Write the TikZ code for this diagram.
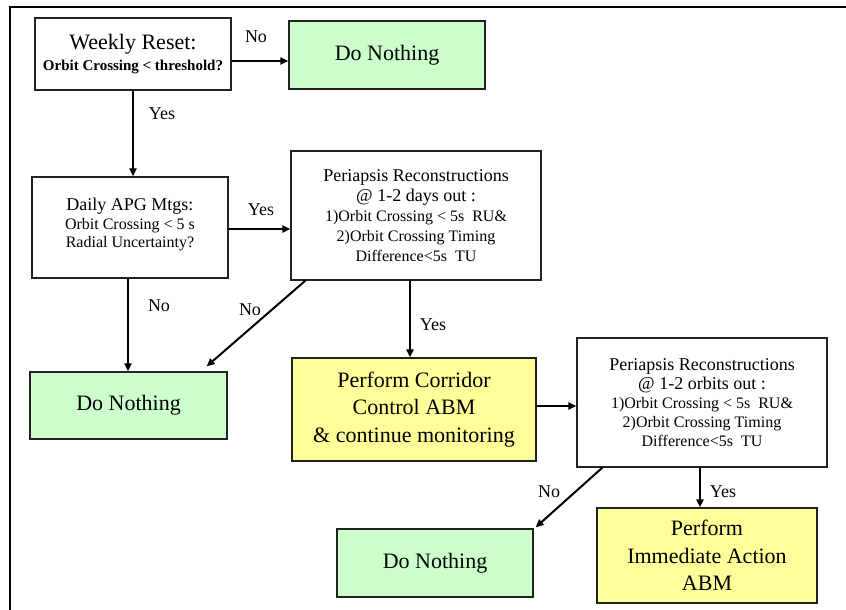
\documentclass[tikz,border=0pt]{standalone}
\usepackage{fontspec}
\setmainfont{Liberation Serif}
\newfontfamily\tnr{Liberation Serif}
\usetikzlibrary{arrows.meta}
\newcommand{\fsz}[2]{\tnr\fontsize{#1}{#2}\selectfont}
\definecolor{boxgreen}{HTML}{CCFFCC}
\definecolor{boxyellow}{HTML}{FFFF99}
\definecolor{edgegray}{HTML}{222222}
\tikzset{
  basebox/.style={draw=edgegray, line width=1.3pt, align=center, inner sep=0pt, anchor=center},
  whitebox/.style={basebox, fill=white, font=\fsz{16}{19}},
  greenbox/.style={basebox, fill=boxgreen, font=\fsz{22}{27}},
  yellowbox/.style={basebox, fill=boxyellow, font=\fsz{22}{27.5}},
  arr/.style={line width=2pt, -{Triangle[length=8pt,width=7pt]}},
  lbl/.style={font=\fsz{18}{20}, inner sep=0pt, anchor=center}
}
\begin{document}
\begin{tikzpicture}[x=1pt,y=-1pt]
\useasboundingbox (0,0) rectangle (846,610);
\fill[white] (0,0) rectangle (846,610);
% outer frame (clipped by page)
\draw[line width=2pt] (10,612) -- (10,7) -- (848,7);

% boxes
\node[whitebox, minimum width=196pt, minimum height=72pt] (b1) at (133,54)
  {\fsz{22}{24}Weekly Reset:\\[2pt] \bfseries\fsz{15}{20}Orbit Crossing < threshold?};
\node[greenbox, minimum width=196pt, minimum height=68pt] (dn1) at (387,55) {Do Nothing};
\node[whitebox, minimum width=196pt, minimum height=101pt] (b2) at (130,227.5)
  {\fsz{18}{20}Daily APG Mtgs:\\ \fsz{16}{19}Orbit Crossing < 5 s\\[-1pt] \fsz{16}{19}Radial Uncertainty?\\[-9pt]};
\node[whitebox, minimum width=250pt, minimum height=129pt] (b3) at (416,215.5)
  {\fsz{18}{22}Periapsis Reconstructions\\[1pt] \fsz{18}{22}@ 1-2 days out :\\[1pt] \fsz{16}{19}1)Orbit Crossing < 5s~ RU\&\\[1pt] \fsz{16}{19}2)Orbit Crossing Timing\\[1pt] \fsz{16}{19}Difference<5s~ TU};
\node[greenbox, minimum width=197pt, minimum height=67pt] (dn2) at (128.5,405.5) {Do Nothing};
\node[yellowbox, minimum width=244pt, minimum height=103pt] (y1) at (414,409.5)
  {\fsz{22}{27.5}Perform Corridor\\ \fsz{22}{27.5}Control ABM\\ \fsz{22}{27.5}\& continue monitoring};
\node[whitebox, minimum width=250pt, minimum height=129pt] (b4) at (702,402.5)
  {\fsz{18}{22}Periapsis Reconstructions\\ \fsz{18}{22}@ 1-2 orbits out :\\ \fsz{16}{19}1)Orbit Crossing < 5s~ RU\&\\ \fsz{16}{19}2)Orbit Crossing Timing\\ \fsz{16}{19}Difference<5s~ TU};
\node[greenbox, minimum width=196pt, minimum height=68pt] (dn3) at (435,563) {Do Nothing};
\node[yellowbox, minimum width=220pt, minimum height=95pt] (y2) at (707,555.5)
  {\fsz{22}{27}Perform\\ \fsz{22}{27}Immediate Action\\ \fsz{22}{27}ABM};

% connectors
\draw[arr] ([yshift=-7pt]b1.east) -- ([yshift=-7pt]b1.east -| dn1.west);
\draw[arr] (b1.south) -- (b1.south |- b2.north);
\draw[arr] ([yshift=-1.5pt]b2.east) -- ([yshift=-1.5pt]b2.east -| b3.west);
\draw[arr] ([xshift=-2pt]b2.south) -- ([xshift=-2pt]b2.south |- dn2.north);
\draw[arr] ([xshift=15pt]b3.south west) -- ([xshift=-21pt,yshift=5pt]dn2.north east);
\draw[arr] ([xshift=-6pt]b3.south) -- ([xshift=-6pt]b3.south |- y1.north);
\draw[arr] ([yshift=3.5pt]y1.east) -- ([yshift=3.5pt]y1.east -| b4.west);
\draw[arr] ([xshift=26pt]b4.south west) -- ([xshift=2pt,yshift=1pt]dn3.north east);
\draw[arr] ([xshift=-2pt]b4.south) -- ([xshift=-2pt]b4.south |- y2.north);

% labels
\node[lbl] (lno1) at (256,37) {No};
\node[lbl] (lyes1) at (162,114) {Yes};
\node[lbl] (lyes2) at (261,210) {Yes};
\node[lbl] (lno2) at (159,306) {No};
\node[lbl] (lno3) at (250,310) {No};
\node[lbl] (lyes3) at (433,325) {Yes};
\node[lbl] (lno4) at (549,492) {No};
\node[lbl] (lyes4) at (723,492) {Yes};
\end{tikzpicture}
\end{document}
